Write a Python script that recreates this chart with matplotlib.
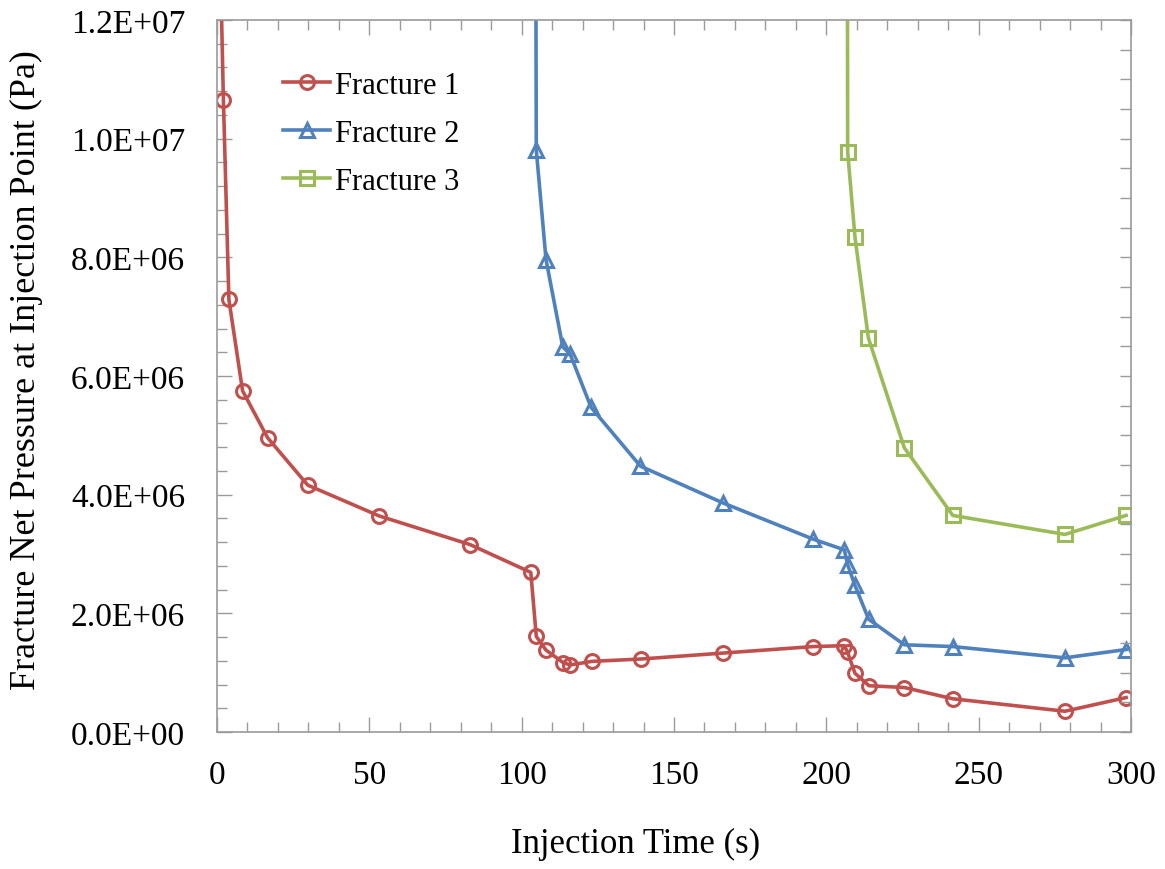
import numpy as np
import matplotlib
matplotlib.use("Agg")
import matplotlib.pyplot as plt
from matplotlib.ticker import MultipleLocator, FuncFormatter

# injection time (s) and net pressure (MPa -> Pa below)
time_f1 = [1.0, 2.1, 3.9, 8.4, 16.6, 29.8, 53.3, 83.0, 103.0, 104.8, 108.0, 113.6,
           115.9, 123.0, 139.1, 166.0, 195.7, 205.9, 207.0, 209.4, 214.0, 225.6,
           241.5, 278.3, 298.4]
pres_f1 = [13.2, 10.66, 7.29, 5.75, 4.96, 4.16, 3.64, 3.16, 2.69, 1.61, 1.38, 1.17,
           1.13, 1.19, 1.23, 1.33, 1.44, 1.455, 1.34, 0.99, 0.78, 0.75,
           0.56, 0.35, 0.58]

time_f2 = [104.6, 104.8, 108.0, 113.5, 115.9, 122.8, 139.0, 166.1, 195.7, 205.9,
           207.0, 209.4, 213.9, 225.6, 241.5, 278.3, 298.4]
pres_f2 = [14.0, 9.81, 7.96, 6.49, 6.37, 5.47, 4.48, 3.86, 3.25, 3.07,
           2.82, 2.47, 1.90, 1.47, 1.44, 1.25, 1.39]

time_f3 = [206.9, 207.0, 209.4, 213.8, 225.6, 241.5, 278.3, 298.4]
pres_f3 = [14.0, 9.78, 8.34, 6.64, 4.79, 3.65, 3.33, 3.65]

series = [
    ("Fracture 1", time_f1, pres_f1, "#C0504D", "o"),
    ("Fracture 2", time_f2, pres_f2, "#4F81BD", "^"),
    ("Fracture 3", time_f3, pres_f3, "#9BBB59", "s"),
]

plt.rcParams["font.family"] = ["Liberation Serif", "DejaVu Serif"]
grey = "#9A9A9A"

fig = plt.figure(figsize=(11.65, 8.7), dpi=100)
ax = fig.add_axes([217 / 1165, 137 / 870, 914 / 1165, 712 / 870])

for name, t, p, col, mk in series:
    ax.plot(t, np.array(p) * 1e6, color=col, lw=2.6, marker=mk, ms=10,
            mfc="none", mew=2.2, label=name)

ax.set_xlim(0, 300)
ax.set_ylim(0, 1.2e7)
ax.xaxis.set_major_locator(MultipleLocator(50))
ax.xaxis.set_minor_locator(MultipleLocator(10))
ax.yaxis.set_major_locator(MultipleLocator(2e6))
ax.yaxis.set_minor_locator(MultipleLocator(4e5))
ax.yaxis.set_major_formatter(FuncFormatter(lambda v, _: f"{v:.1E}"))

ax.tick_params(which="both", direction="in", color=grey, top=True, right=False,
               labelsize=24, labelcolor="black", width=1)
ax.tick_params(which="major", length=11)
ax.tick_params(which="minor", length=7)
ax.tick_params(axis="y", pad=23)
ax.tick_params(axis="x", pad=20)
for sp in ax.spines.values():
    sp.set_color(grey)
    sp.set_linewidth(1.2)

# right-hand ticks use a different spacing
ax2 = ax.twinx()
ax2.set_ylim(0, 1.2e7)
ax2.set_yticks(np.arange(0, 1.2e7 + 1, 5e5))
ax2.set_yticklabels([])
ax2.tick_params(direction="in", length=8, color=grey, width=1)
for sp in ax2.spines.values():
    sp.set_visible(False)

ax.set_xlabel("Injection Time (s)", fontsize=25)
ax.xaxis.set_label_coords(0.458, -0.133)
ax.set_ylabel("Fracture Net Pressure at Injection Point (Pa)", fontsize=26)
ax.yaxis.set_label_coords(-0.19, 0.51)

ax.legend(loc="upper left", bbox_to_anchor=(283 / 1165, 1 - 72 / 870),
          bbox_transform=fig.transFigure, frameon=False, fontsize=22,
          handlelength=1.55, handletextpad=0.15, borderpad=0, borderaxespad=0,
          labelspacing=0.62, numpoints=1)

fig.savefig("out.png", dpi=100)
